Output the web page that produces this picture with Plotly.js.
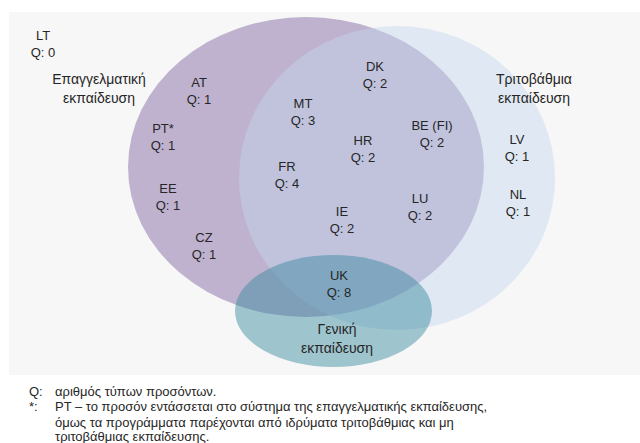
<!DOCTYPE html>
<html>
<head>
<meta charset="utf-8">
<script src="https://cdn.plot.ly/plotly-3.0.1.min.js"></script>
<style>html,body{margin:0;padding:0;background:#fff;}#chart{width:640px;height:443px;}</style>
</head>
<body>
<div id="chart"></div>
<script>
// Countries and number of qualification types (Q)
const countries = ['LT','AT','PT*','EE','CZ','DK','MT','HR','BE (FI)','FR','IE','LU','LV','NL','UK'];
const qualTypes = [0, 1, 1, 1, 1, 2, 3, 2, 2, 4, 2, 2, 1, 1, 8];
// label anchor positions (chart units)
const labelX = [43, 199, 163, 168, 204, 375, 303, 363, 432, 287, 342, 420, 517, 518, 339];
const labelY = [45.5, 92.5, 138, 198.5, 247, 76, 113.5, 150.5, 135, 176, 221, 208, 149.5, 204, 285];

// Sets of the Venn diagram
const setNames = ['Επαγγελματική<br>εκπαίδευση', 'Τριτοβάθμια<br>εκπαίδευση', 'Γενική<br>εκπαίδευση'];
const setLabelX = [99, 534, 337];
const setLabelY = [90, 90, 340];
// ellipse geometry: centre and radii (chart units)
const setCx = [306, 397, 333.5];
const setCy = [167, 178, 311];
const setRx = [178, 158, 98.5];
const setRy = [150, 152, 56];
const setColors = ['rgba(128,100,162,0.47)', 'rgba(196,214,239,0.47)', 'rgba(49,133,156,0.45)'];

// Footnotes
const noteKeys = ['Q:', '*:', '', ''];
const noteTexts = [
  'αριθμός τύπων προσόντων.',
  'PT – το προσόν εντάσσεται στο σύστημα της επαγγελματικής εκπαίδευσης,',
  'όμως τα προγράμματα παρέχονται από ιδρύματα τριτοβάθμιας και μη',
  'τριτοβάθμιας εκπαίδευσης.'
];
const noteY = [391, 406.5, 422, 436.5];

const FONT = 'Liberation Sans, Arial, sans-serif';
const TXT = '#262626';

const shapes = [{
  type: 'rect', layer: 'below', xref: 'x', yref: 'y',
  x0: 9, x1: 640, y0: 12, y1: 375,
  fillcolor: '#F7F7F7', line: {width: 0}
}];
for (let i = 0; i < setNames.length; i++) {
  shapes.push({
    type: 'circle', layer: 'below', xref: 'x', yref: 'y',
    x0: setCx[i] - setRx[i], x1: setCx[i] + setRx[i],
    y0: setCy[i] - setRy[i], y1: setCy[i] + setRy[i],
    fillcolor: setColors[i], line: {width: 0}
  });
}

const countryTrace = {
  type: 'scatter', mode: 'text',
  x: labelX, y: labelY,
  text: countries.map((c, i) => c + '<br>Q: ' + qualTypes[i]),
  textposition: 'middle center',
  textfont: {family: FONT, size: 13, color: TXT},
  hoverinfo: 'skip', showlegend: false
};
const setTrace = {
  type: 'scatter', mode: 'text',
  x: setLabelX, y: setLabelY,
  text: setNames,
  textposition: 'middle center',
  textfont: {family: FONT, size: 14, color: TXT},
  hoverinfo: 'skip', showlegend: false
};

const annotations = [];
for (let i = 0; i < noteTexts.length; i++) {
  if (noteKeys[i]) {
    annotations.push({xref: 'x', yref: 'y', x: 27, y: noteY[i], xanchor: 'left', yanchor: 'middle',
      text: noteKeys[i], showarrow: false, font: {family: FONT, size: 13, color: TXT}});
  }
  annotations.push({xref: 'x', yref: 'y', x: 53, y: noteY[i], xanchor: 'left', yanchor: 'middle',
    text: noteTexts[i], showarrow: false, font: {family: FONT, size: 13, color: TXT}});
}

const layout = {
  width: 640, height: 443,
  margin: {l: 0, r: 0, t: 0, b: 0, pad: 0},
  paper_bgcolor: '#ffffff', plot_bgcolor: 'rgba(0,0,0,0)',
  xaxis: {range: [0, 640], visible: false, fixedrange: true},
  yaxis: {range: [443, 0], visible: false, fixedrange: true},
  shapes: shapes,
  annotations: annotations,
  showlegend: false
};

Plotly.newPlot('chart', [countryTrace, setTrace], layout, {displayModeBar: false, staticPlot: true});
</script>
</body>
</html>
